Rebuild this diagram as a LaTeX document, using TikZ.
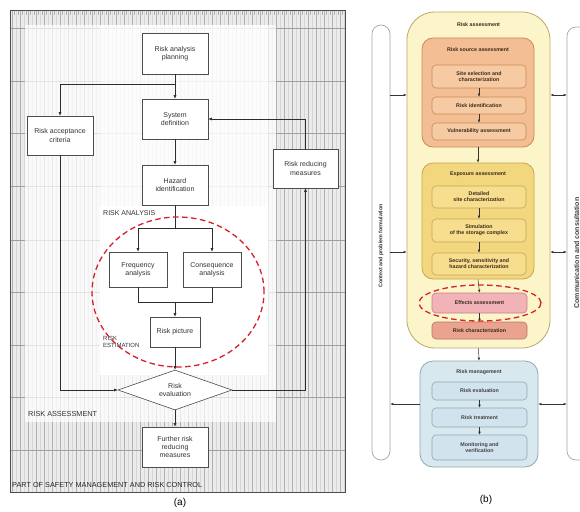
\documentclass[tikz,border=0pt]{standalone}
\usepackage{fontspec}
\setmainfont{Liberation Sans}
\usetikzlibrary{arrows.meta,shapes.geometric}
\definecolor{raFill}{HTML}{FCF5C9}
\definecolor{raDraw}{HTML}{B9A96A}
\definecolor{rsFill}{HTML}{F3BE93}
\definecolor{rsDraw}{HTML}{C98A55}
\definecolor{rsIn}{HTML}{F6CBA3}
\definecolor{exFill}{HTML}{F3D77E}
\definecolor{exDraw}{HTML}{C5A650}
\definecolor{exIn}{HTML}{F7DE8E}
\definecolor{efFill}{HTML}{F2B3B8}
\definecolor{efDraw}{HTML}{C07E84}
\definecolor{rcFill}{HTML}{E9A38F}
\definecolor{rcDraw}{HTML}{B97563}
\definecolor{rmFill}{HTML}{D8E8EF}
\definecolor{rmDraw}{HTML}{8FA7B3}
\definecolor{rmIn}{HTML}{D1E4EE}
\definecolor{txtB}{HTML}{3A2A1A}
\definecolor{redDash}{HTML}{D9202A}
\tikzset{
  lbox/.style={draw=gray!60!black, fill=white, line width=0.6pt, align=center,
    inner sep=1pt, font=\fontsize{7}{8.2}\selectfont, text=black!80},
  arr/.style={-{Latex[length=3.5pt,width=3pt]}, line width=0.55pt, draw=gray!35!black},
  plain/.style={line width=0.55pt, draw=gray!35!black},
  rtxt/.style={font=\fontsize{5.3}{6.2}\selectfont\bfseries, text=txtB, align=center},
  rin/.style={rtxt, rounded corners=4pt, line width=0.6pt, inner sep=0.5pt},
  sarr/.style={-{Latex[length=3pt,width=2.6pt]}, line width=0.5pt, draw=black!80},
  darr/.style={{Latex[length=3pt,width=2.6pt]}-{Latex[length=3pt,width=2.6pt]}, line width=0.5pt, draw=black!80},
  bar/.style={draw=gray!70, fill=white, line width=0.7pt, rounded corners=9pt},
  reddash/.style={draw=redDash, line width=1.3pt, dash pattern=on 5.5pt off 3.5pt},
  seclabel/.style={anchor=west, inner sep=0pt, text=black!80}
}
\begin{document}
\begin{tikzpicture}[x=1pt,y=-1pt]
\useasboundingbox (0,0) rectangle (580,511);
\clip (0,0) rectangle (580,511);
\fill[white] (0,0) rectangle (580,511);

% ---------------- left panel background grid ----------------
\fill[gray!16] (10,10) rectangle (345,492);
\foreach \x in {12,20,...,344} \draw[gray!62, line width=0.5pt] (\x,10) -- (\x,492);
\foreach \x in {16,24,...,344} \draw[gray!32, line width=0.35pt] (\x,10) -- (\x,492);
\foreach \y in {28,81,133,186,240,292,345,397,450} \draw[gray!75, line width=0.55pt] (10,\y) -- (345,\y);
\foreach \x in {14,18,...,342} \draw[gray!60, line width=0.4pt] (\x,10) -- (\x,15);
\fill[white, opacity=0.7] (25,25) rectangle (276,422);
\fill[white, opacity=0.5] (100,25) rectangle (268,206);
\fill[white] (100,206) rectangle (268,375);
\draw[gray!60!black, line width=0.6pt] (10,10) rectangle (345,492);

% ---------------- left panel nodes ----------------
\node[lbox, minimum width=66pt, minimum height=41pt] (rap) at (175,53.5) {Risk analysis\\planning};
\node[lbox, minimum width=66pt, minimum height=40pt] (sd) at (175,119) {System\\definition};
\node[lbox, minimum width=66pt, minimum height=39pt] (rac) at (60,135.5) {Risk acceptance\\criteria};
\node[lbox, minimum width=66pt, minimum height=40pt] (hi) at (175,185) {Hazard\\identification};
\node[lbox, minimum width=65pt, minimum height=39pt] (rrm) at (305.5,168.5) {Risk reducing\\measures};
\node[lbox, minimum width=58pt, minimum height=35pt] (fa) at (138,269.5) {Frequency\\analysis};
\node[lbox, minimum width=58pt, minimum height=35pt] (ca) at (212,269.5) {Consequence\\analysis};
\node[lbox, minimum width=50pt, minimum height=30pt] (rp) at (175,332) {Risk picture};
\node[lbox, diamond, shape aspect=2.85, minimum width=114pt, minimum height=40pt, inner sep=0pt] (ev) at (175,390) {Risk\\evaluation};
\node[lbox, minimum width=66pt, minimum height=40pt] (frm) at (175,447) {Further risk\\reducing\\measures};

\node[seclabel, font=\fontsize{7}{8}\selectfont] (lra) at (103,213) {RISK ANALYSIS};
\node[seclabel, font=\fontsize{6}{6.6}\selectfont, align=left] (lre) at (103,342) {RISK\\ESTIMATION};
\node[seclabel, font=\fontsize{7.3}{8}\selectfont] (las) at (28,414) {RISK ASSESSMENT};
\node[seclabel, font=\fontsize{7.3}{8}\selectfont, text=black!85] (lsm) at (12,485) {PART OF SAFETY MANAGEMENT AND RISK CONTROL};
\node[font=\fontsize{10}{12}\selectfont] (cap a) at (180,503) {(a)};

% ---------------- left panel connectors ----------------
\coordinate (j1) at (175,84);
\coordinate (j2) at (175,228);
\coordinate (j3) at (175,302);
\draw[arr] (rap.south) -- (sd.north);
\draw[arr] (j1) -| (rac.north);
\draw[arr] (sd.south) -- (hi.north);
\draw[plain] (hi.south) -- (j2);
\draw[plain] (fa.north |- j2) -- (ca.north |- j2);
\draw[arr] (fa.north |- j2) -- (fa.north);
\draw[arr] (ca.north |- j2) -- (ca.north);
\draw[plain] (fa.south) -- (fa.south |- j3) -- (ca.south |- j3) -- (ca.south);
\draw[arr] (j3) -- (rp.north);
\draw[arr] (rp.south) -- (ev.north);
\draw[arr] (ev.south) -- (frm.north);
\draw[arr] (rac.south) |- (ev.west);
\draw[arr] (ev.east) -| (rrm.south);
\draw[arr] (rrm.north) |- (sd.east);

\draw[reddash] (178,292) ellipse [x radius=86pt, y radius=75pt];

% ---------------- right panel ----------------
\node[bar, minimum width=18pt, minimum height=435pt] (lbar) at (381,242.5) {};
\node[rotate=90, font=\fontsize{5.3}{6}\selectfont\bfseries, text=black!80] (lbt) at (381,246) {Context and problem formulation};
\node[bar, minimum width=24pt, minimum height=433pt] (rbar) at (579,243.5) {};
\node[rotate=90, font=\fontsize{7}{8}\selectfont\bfseries, text=black!75] (rbt) at (576.5,253) {Communication and consultation};

\node[draw=raDraw, fill=raFill, line width=0.8pt, rounded corners=28pt, minimum width=143pt, minimum height=336pt] (ra) at (478.5,180) {};
\node[rtxt] (rat) at (478.5,25) {Risk assessment};

\node[draw=rsDraw, fill=rsFill, line width=0.8pt, rounded corners=11pt, minimum width=112pt, minimum height=109pt] (rsa) at (478,92.5) {};
\node[rtxt] (rsat) at (478,50) {Risk source assessment};
\node[rin, draw=rsDraw, fill=rsIn, minimum width=94pt, minimum height=23pt] (site) at (479,76.5) {Site selection and\\characterization};
\node[rin, draw=rsDraw, fill=rsIn, minimum width=94pt, minimum height=17pt] (rid) at (479,105.5) {Risk identification};
\node[rin, draw=rsDraw, fill=rsIn, minimum width=94pt, minimum height=17pt] (vul) at (479,131.5) {Vulnerability assessment};

\node[draw=exDraw, fill=exFill, line width=0.8pt, rounded corners=11pt, minimum width=112pt, minimum height=116pt] (expo) at (478,221) {};
\node[rtxt] (expot) at (478,174) {Exposure assessment};
\node[rin, draw=exDraw, fill=exIn, minimum width=94pt, minimum height=22pt] (det) at (479,197) {Detailed\\site characterization};
\node[rin, draw=exDraw, fill=exIn, minimum width=94pt, minimum height=23pt] (sim) at (479,230.5) {Simulation\\of the storage complex};
\node[rin, draw=exDraw, fill=exIn, minimum width=94pt, minimum height=22pt] (sec) at (479,264) {Security, sensitivity and\\hazard characterization};

\node[rin, draw=efDraw, fill=efFill, minimum width=95pt, minimum height=20pt] (eff) at (479.5,303) {Effects assessment};
\node[rin, draw=rcDraw, fill=rcFill, minimum width=95pt, minimum height=17pt] (rch) at (479.5,330.5) {Risk characterization};

\node[draw=rmDraw, fill=rmFill, line width=0.8pt, rounded corners=13pt, minimum width=118pt, minimum height=106pt] (rm) at (479,414) {};
\node[rtxt, text=black!75] (rmt) at (479,372) {Risk management};
\node[rin, draw=rmDraw, fill=rmIn, minimum width=95pt, minimum height=18pt, text=black!75] (rev) at (479.5,391) {Risk evaluation};
\node[rin, draw=rmDraw, fill=rmIn, minimum width=95pt, minimum height=19pt, text=black!75] (rtr) at (479.5,417.5) {Risk treatment};
\node[rin, draw=rmDraw, fill=rmIn, minimum width=95pt, minimum height=25pt, text=black!75] (mon) at (479.5,447.5) {Monitoring and\\verification};

\node[font=\fontsize{10}{12}\selectfont] (cap b) at (486,500) {(b)};

% right panel connectors
\draw[sarr] (site.south) -- (rid.north);
\draw[sarr] (rid.south) -- (vul.north);
\draw[sarr] (rsa.south) -- (expo.north);
\draw[sarr] (det.south) -- (sim.north);
\draw[sarr] (sim.south) -- (sec.north);
\draw[sarr] (expo.south) -- (eff.north);
\draw[sarr] (eff.south) -- (rch.north);
\draw[sarr] (ra.south) -- (rm.north);
\draw[sarr] (rev.south) -- (rtr.north);
\draw[sarr] (rtr.south) -- (mon.north);

\coordinate (s1) at (400,95);
\coordinate (s2) at (400,252);
\coordinate (s3) at (400,404);
\draw[sarr] (lbar.east |- s1) -- (ra.west |- s1);
\draw[sarr] (lbar.east |- s2) -- (ra.west |- s2);
\draw[sarr] (rm.west |- s3) -- (lbar.east |- s3);
\draw[darr] (ra.east |- s1) -- (rbar.west |- s1);
\draw[darr] (ra.east |- s2) -- (rbar.west |- s2);
\draw[darr] (rm.east |- s3) -- (rbar.west |- s3);

\draw[reddash] (480,303) ellipse [x radius=61pt, y radius=18pt];
\end{tikzpicture}
\end{document}
